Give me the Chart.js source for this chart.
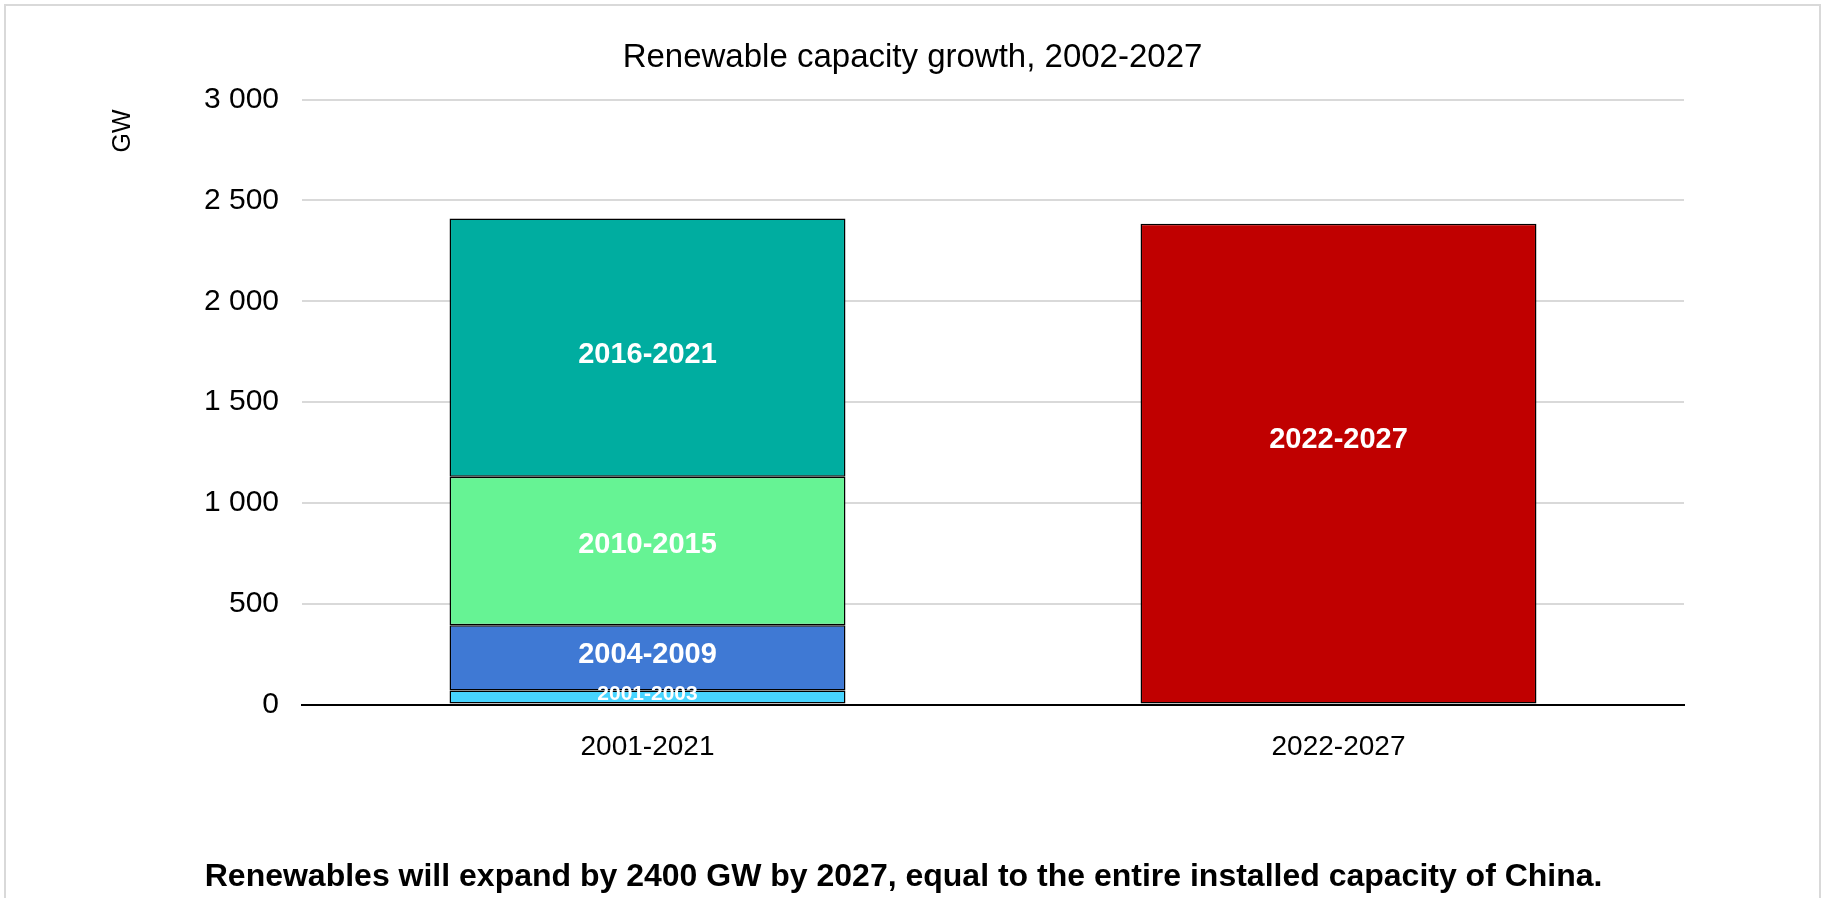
<!DOCTYPE html>
<html>
<head>
<meta charset="utf-8">
<title>Renewable capacity growth</title>
<script src="https://cdn.jsdelivr.net/npm/chart.js@4.4.0/dist/chart.umd.min.js"></script>
<style>
  html, body { margin: 0; padding: 0; background: #fff; overflow: hidden; }
  #wrap { position: relative; width: 1825px; height: 898px; }
  #myChart { position: absolute; left: 0; top: 0; }
  #frame { position: absolute; left: 4px; top: 4px; width: 1817px; height: 1000px;
           box-sizing: border-box; border: 2px solid #d9d9d9; pointer-events: none; }
</style>
</head>
<body>
<div id="wrap">
  <canvas id="myChart" width="1825" height="898"></canvas>
  <div id="frame"></div>
</div>
<script>
// data (GW added per period)
var categories = ['2001-2021', '2022-2027'];
var periods = ['2001-2003', '2004-2009', '2010-2015', '2016-2021', '2022-2027'];
var historic = [70, 323, 737, 1280];   // stacked in the 2001-2021 bar
var forecast = [2385];                 // 2022-2027 bar
var yMax = 3000;
var yStep = 500;
var unitLabel = 'GW';

var colors = ['#47d4ff', '#3f79d4', '#66f394', '#00ada0', '#c00000'];
var labelSizes = [21, 29, 29, 29, 29];
var labelShift = [-3, -3, -6, 7, -24];
var fontFamily = '"Liberation Sans", Arial, Helvetica, sans-serif';

function buildDatasets() {
  var sets = [];
  for (var i = 0; i < historic.length; i++) {
    sets.push({
      'label': periods[i],
      'data': [historic[i], null],
      'backgroundColor': colors[i]
    });
  }
  sets.push({
    'label': periods[4],
    'data': [null, forecast[0]],
    'backgroundColor': colors[4]
  });
  sets.forEach(function (s) {
    s.borderColor = '#000';
    s.borderWidth = 1.5;
    s.borderSkipped = false;
    s.categoryPercentage = 1;
    s.barPercentage = 0.573;
  });
  return sets;
}

function spaced(v) {
  return String(v).replace(/\B(?=(\d{3})+(?!\d))/g, ' ');
}

// white period names in the middle of each segment
var barLabels = {
  id: 'barLabels',
  afterDatasetsDraw: function (chart) {
    var ctx = chart.ctx;
    chart.data.datasets.forEach(function (ds, i) {
      var meta = chart.getDatasetMeta(i);
      meta.data.forEach(function (bar, j) {
        if (ds.data[j] == null) return;
        ctx.save();
        ctx.fillStyle = '#fff';
        ctx.font = 'bold ' + labelSizes[i] + 'px ' + fontFamily;
        ctx.textAlign = 'center';
        ctx.textBaseline = 'middle';
        ctx.fillText(ds.label, bar.x, (bar.y + bar.base) / 2 + labelShift[i]);
        ctx.restore();
      });
    });
  }
};

// unit label, rotated, near the top of the value axis
var unitTitle = {
  id: 'unitTitle',
  afterDraw: function (chart) {
    var ctx = chart.ctx;
    ctx.save();
    ctx.translate(123, 131);
    ctx.rotate(-Math.PI / 2);
    ctx.fillStyle = '#000';
    ctx.font = '25px ' + fontFamily;
    ctx.textAlign = 'center';
    ctx.textBaseline = 'middle';
    ctx.fillText(unitLabel, 0, 0);
    ctx.restore();
  }
};

Chart.defaults.font.family = fontFamily;
Chart.defaults.color = '#000';

var myChart = new Chart(document.getElementById('myChart'), {
  type: 'bar',
  data: {
    'labels': categories,
    'datasets': buildDatasets()
  },
  plugins: [barLabels, unitTitle],
  options: {
    responsive: false,
    animation: false,
    layout: { padding: { left: 141, right: 141, top: 0, bottom: 0 } },
    plugins: {
      legend: { display: false },
      tooltip: { enabled: false },
      title: {
        display: true,
        text: 'Renewable capacity growth, 2002-2027',
        color: '#000',
        font: { size: 33, weight: 'normal' },
        padding: { top: 38, bottom: 22 }
      },
      subtitle: {
        display: true,
        position: 'bottom',
        // two trailing spaces nudge the centred line a little to the left, as in the source
        text: 'Renewables will expand by 2400 GW by 2027, equal to the entire installed capacity of China.  ',
        color: '#000',
        font: { size: 32, weight: 'bold' },
        padding: { top: 67.4, bottom: 2 }
      }
    },
    scales: {
      x: {
        stacked: true,
        grid: { display: false, drawTicks: false },
        border: { display: true, color: '#000', width: 2 },
        ticks: { font: { size: 28 }, color: '#000', padding: 26 }
      },
      y: {
        stacked: true,
        min: 0,
        max: yMax,
        afterFit: function (scale) { scale.width = 161; },
        ticks: {
          stepSize: yStep,
          font: { size: 30 },
          color: '#000',
          padding: 23,
          callback: function (v) { return spaced(v); }
        },
        grid: {
          drawTicks: false,
          lineWidth: 2,
          color: function (c) { return c.tick && c.tick.value === 0 ? 'rgba(0,0,0,0)' : '#d9d9d9'; }
        },
        border: { display: false }
      }
    }
  }
});
</script>
</body>
</html>
